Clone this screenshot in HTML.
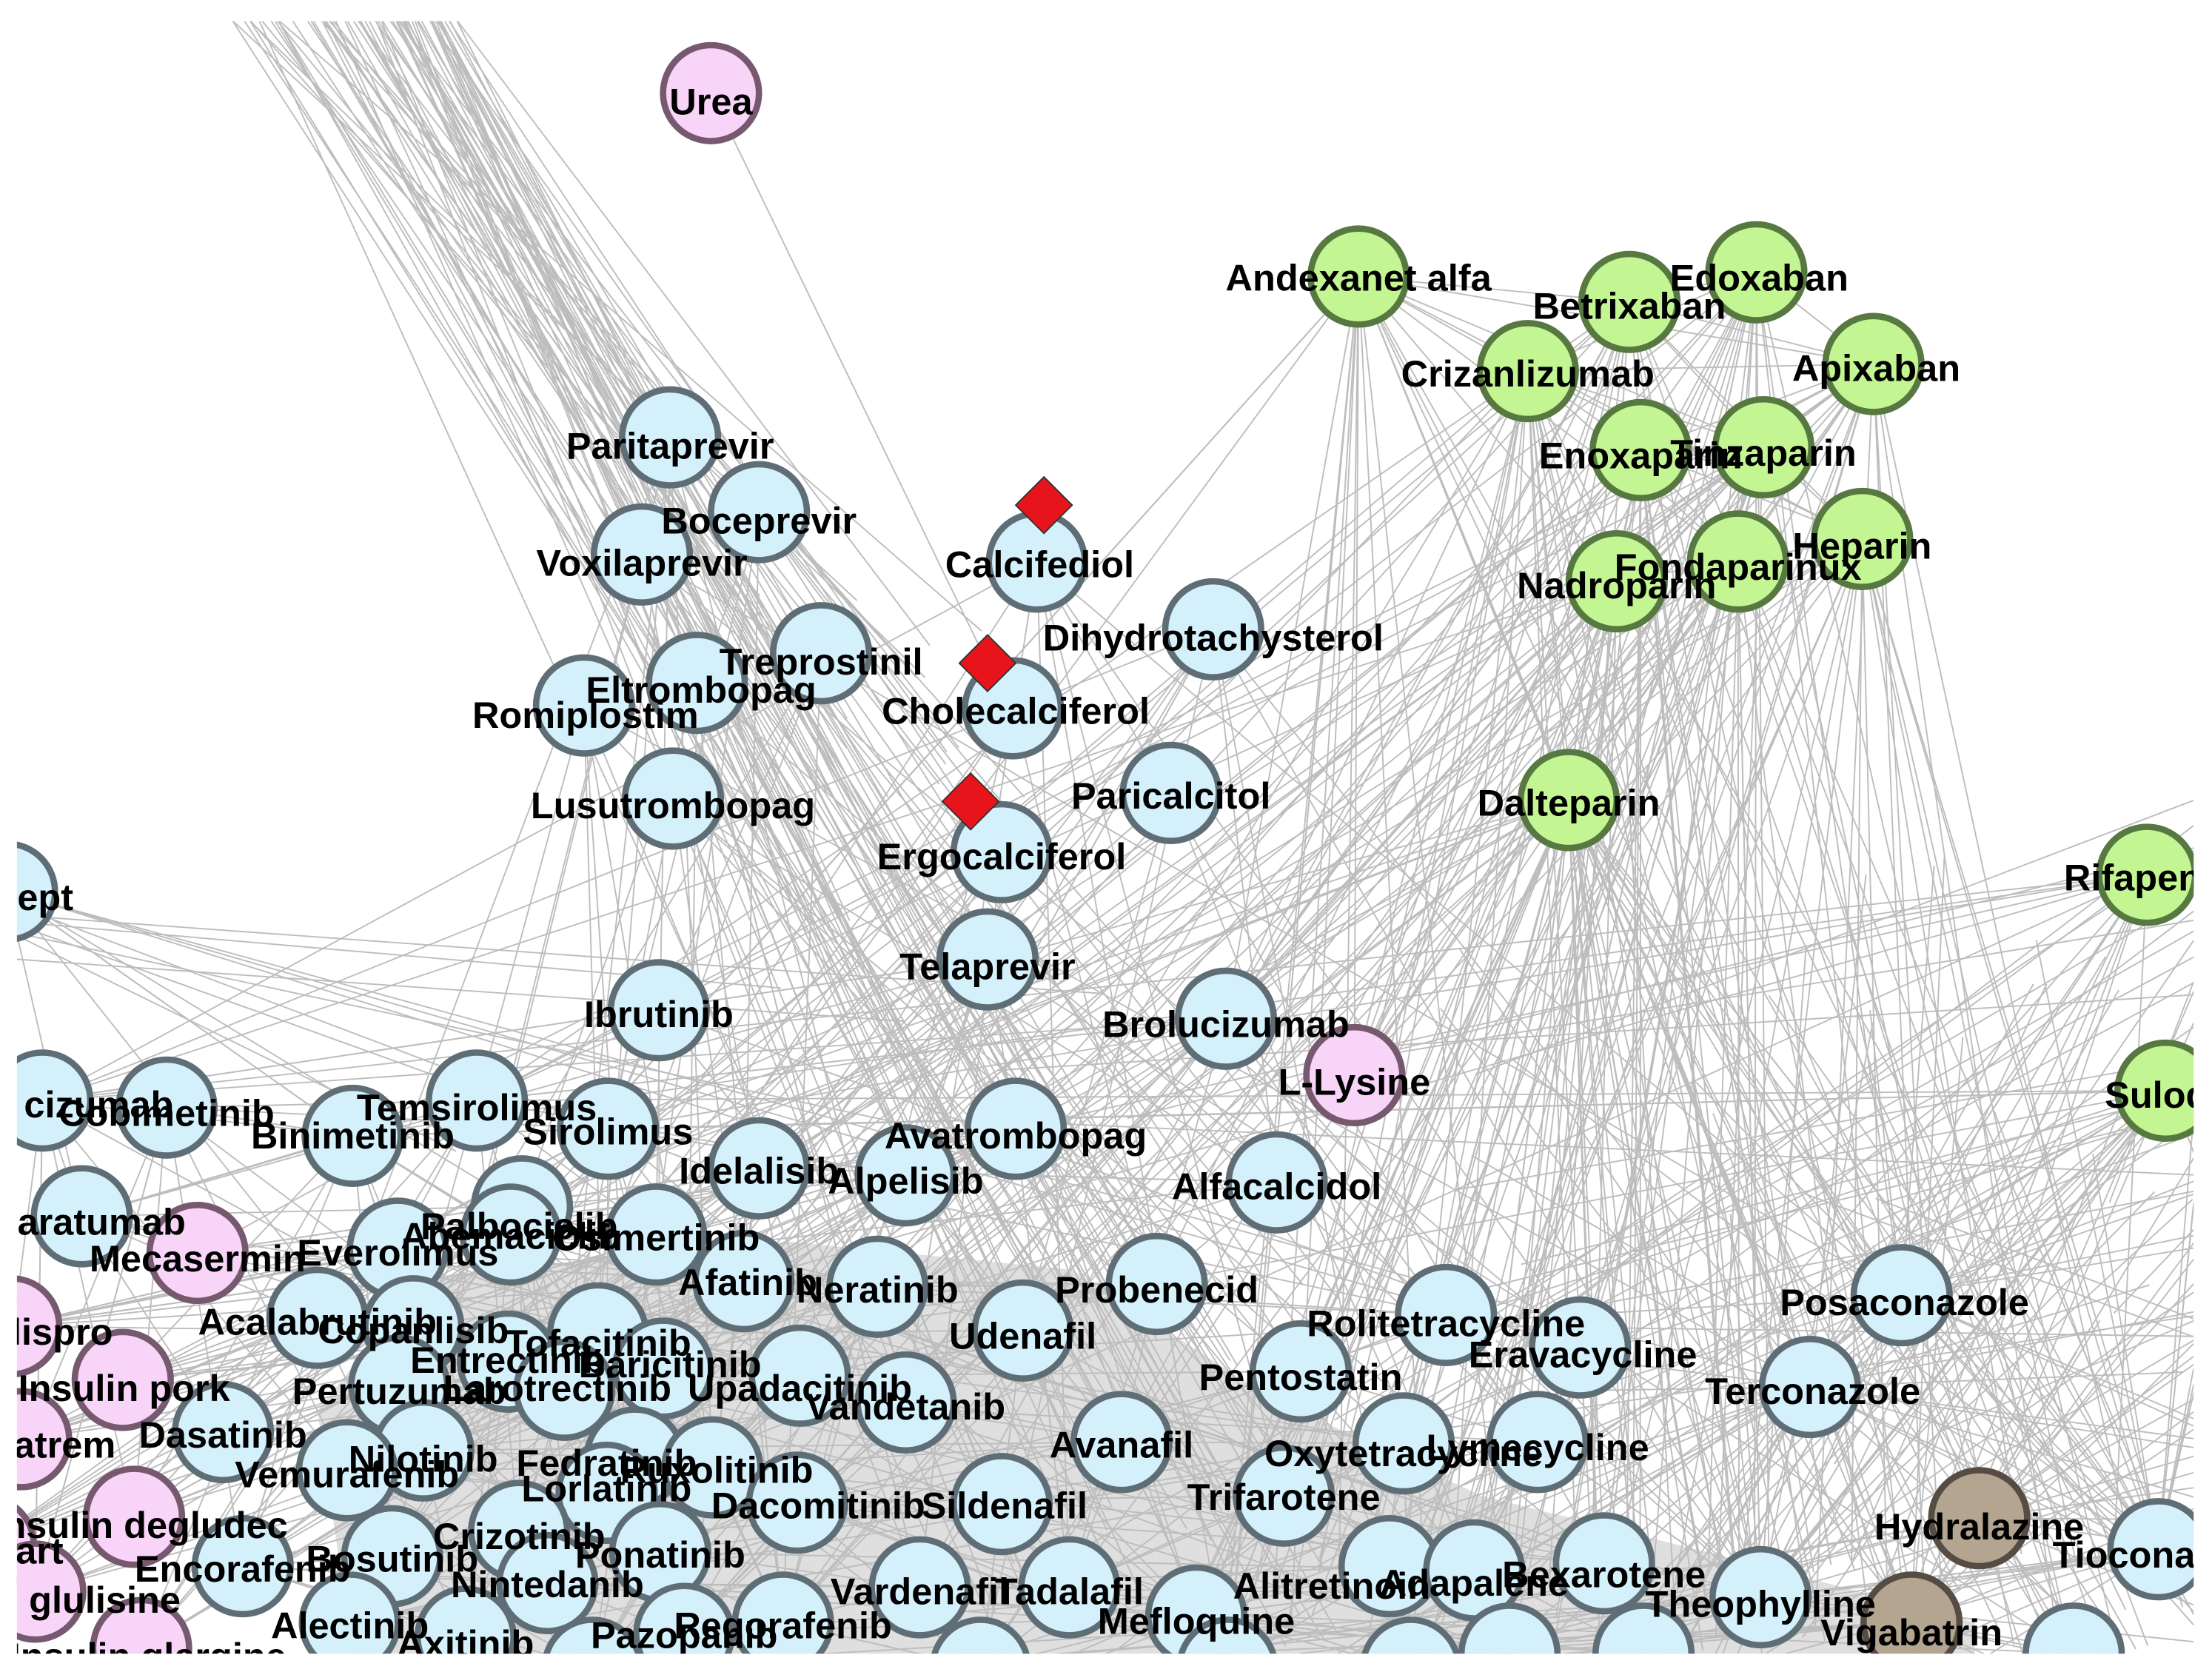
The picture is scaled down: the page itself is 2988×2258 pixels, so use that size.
<!DOCTYPE html>
<html><head><meta charset="utf-8">
<style>
html,body{margin:0;padding:0;background:#fff;}
svg{display:block;}
text{font-family:"Liberation Sans",Arial,sans-serif;font-weight:bold;font-size:26.5px;fill:#000;}
</style></head>
<body>
<svg id="s" width="2988" height="2258" viewBox="0 0 1568 1185" preserveAspectRatio="none" xmlns="http://www.w3.org/2000/svg">
<defs><clipPath id="c"><rect x="12" y="15" width="1543" height="1157"/></clipPath></defs>
<g clip-path="url(#c)">
<polygon points="300,905 560,880 760,900 900,990 1050,1060 1250,1110 1400,1150 1400,1172 250,1172 225,1000" fill="#c4c4c4" opacity="0.55"/>
<g id="edges" stroke="#bdbdbd" stroke-width="1" fill="none"></g>
<g id="nodes" stroke-width="4.5"></g>
<g id="dia" fill="#e8141c" stroke="#333" stroke-width="1">
<polygon points="740,338 760,358 740,378 720,358"/>
<polygon points="700,450 720,470 700,490 680,470"/>
<polygon points="688,548 708,568 688,588 668,568"/>
</g>
<g id="labels"></g>
</g>
</svg>
<script>
var N=[
["Paritaprevir",475,310,475,317,"B"],["Boceprevir",538,363,538,370,"B"],["Voxilaprevir",455,393,455,400,"B"],
["Calcifediol",735,398,737,401,"B"],["Dihydrotachysterol",860,446,860,453,"B"],["Treprostinil",582,463,582,470,"B"],
["Eltrombopag",494,484,497,490,"B"],["Romiplostim",414,500,415,508,"B"],["Cholecalciferol",718,502,720,505,"B"],
["Lusutrombopag",477,566,477,572,"B"],["Paricalcitol",830,562,830,565,"B"],["Ergocalciferol",710,604,710,608,"B"],
["Telaprevir",700,680,700,686,"B"],["Ibrutinib",467,716,467,720,"B"],["Brolucizumab",869,722,869,727,"B"],
["cizumab",30,780,70,784,"B"],["Cobimetinib",118,785,118,790,"B"],["Binimetinib",250,805,250,806,"B"],
["Temsirolimus",338,780,338,786,"B"],["Sirolimus",431,800,431,803,"B"],["Idelalisib",538,828,538,831,"B"],
["Avatrombopag",720,800,720,806,"B"],["Alpelisib",642,833,642,838,"B"],["Alfacalcidol",905,838,905,842,"B"],
["aratumab",58,862,72,867,"B"],["Palbociclib",370,855,368,870,"B"],["Abemaciclib",362,875,362,877,"B"],
["Osimertinib",465,875,465,878,"B"],["Everolimus",282,885,282,889,"B"],["Mecasermin",140,888,140,893,"P"],
["Afatinib",527,908,530,910,"B"],["Neratinib",622,912,622,915,"B"],["Probenecid",820,910,820,915,"B"],
["Acalabrutinib",225,934,225,938,"B"],["Copanlisib",293,940,293,944,"B"],["Tofacitinib",424,945,424,953,"B"],
["Entrectinib",360,965,360,965,"B"],["Baricitinib",470,970,475,968,"B"],["Larotrectinib",400,985,395,985,"B"],
["Pertuzumab",283,982,283,987,"B"],["Udenafil",725,943,725,948,"B"],["Upadacitinib",567,975,567,985,"B"],
["Vandetanib",642,994,642,998,"B"],["Dasatinib",158,1015,158,1018,"B"],["Nilotinib",300,1028,300,1035,"B"],
["Vemurafenib",246,1042,246,1046,"B"],["Fedratinib",450,1033,430,1038,"B"],["Ruxolitinib",505,1040,508,1043,"B"],
["Lorlatinib",430,1058,430,1056,"B"],["Avanafil",795,1022,795,1025,"B"],["Dacomitinib",565,1065,580,1068,"B"],
["Sildenafil",710,1066,712,1068,"B"],["Crizotinib",368,1085,368,1090,"B"],["Ponatinib",468,1100,468,1103,"B"],
["Bosutinib",278,1103,278,1106,"B"],["Encorafenib",172,1110,172,1113,"B"],["Nintedanib",388,1122,388,1124,"B"],
["Vardenafil",652,1125,652,1129,"B"],["Tadalafil",758,1125,758,1129,"B"],["Alectinib",248,1150,248,1153,"B"],
["Axitinib",330,1160,330,1166,"B"],["Pazopanib",485,1158,485,1160,"B"],["Regorafenib",555,1150,555,1153,"B"],
["Mefloquine",848,1145,848,1150,"B"],["Rolitetracycline",1025,932,1025,939,"B"],["Eravacycline",1120,955,1122,961,"B"],
["Pentostatin",922,972,922,977,"B"],["Oxytetracycline",995,1023,995,1031,"B"],["Lymecycline",1090,1022,1090,1027,"B"],
["Trifarotene",910,1060,910,1062,"B"],["Alitretinoin",985,1110,944,1125,"B"],["Adapalene",1045,1113,1045,1123,"B"],
["Bexarotene",1137,1108,1137,1117,"B"],["Theophylline",1248,1132,1248,1138,"B"],["Posaconazole",1348,918,1350,924,"B"],
["Terconazole",1283,983,1285,987,"B"],["Tioconazole",1530,1098,1455,1103,"B","start"],
["",1070,1172,0,0,"B"],["",1165,1172,0,0,"B"],["",1470,1172,0,0,"B"],["",695,1182,0,0,"B"],["",870,1182,0,0,"B"],["",420,1182,0,0,"B"],["",1000,1182,0,0,"B"],
["Etanercept",5,632,52,637,"B","end"],
["Urea",504,66,504,73,"P"],["L-Lysine",960,762,960,768,"P"],["Insulin lispro",8,940,80,945,"P","end"],
["Insulin pork",87,978,88,985,"P"],["Insulin atrem",15,1020,82,1025,"P","end"],["Insulin degludec",95,1075,204,1082,"P","end"],
["Insulin aspart",-10,1095,45,1100,"P","end"],["Insulin glulisine",25,1128,128,1135,"P","end"],["Insulin glargine",100,1168,203,1175,"P","end"],
["Andexanet alfa",963,196,963,198,"G"],["Betrixaban",1155,214,1155,218,"G"],["Edoxaban",1245,193,1247,198,"G"],
["Crizanlizumab",1083,263,1083,266,"G"],["Apixaban",1328,258,1330,262,"G"],["Enoxaparin",1163,319,1163,324,"G"],
["Tinzaparin",1250,317,1250,322,"G"],["Heparin",1320,382,1320,388,"G"],["Fondaparinux",1232,398,1232,403,"G"],
["Nadroparin",1146,412,1146,416,"G"],["Dalteparin",1112,567,1112,570,"G"],["Rifapentine",1522,620,1463,623,"G","start"],
["Sulodexide",1535,773,1492,777,"G","start"],
["Hydralazine",1403,1076,1403,1083,"T"],["Vigabatrin",1355,1150,1355,1158,"T"]
];
var C={B:["#d3f0fb","#5f6e76"],P:["#f8d4f8","#76596f"],G:["#c3f592","#587842"],T:["#b3a590","#564c44"]};
var ns="http://www.w3.org/2000/svg";
function el(t,a,p){var e=document.createElementNS(ns,t);for(var k in a)e.setAttribute(k,a[k]);p.appendChild(e);return e;}
var E=document.getElementById("edges"),ND=document.getElementById("nodes"),L=document.getElementById("labels");
var seed=7;function r(){seed=(seed*16807)%2147483647;return seed/2147483647;}
function line(a,b,c,d){el("line",{x1:a,y1:b,x2:c,y2:d},E);}
var blue=N.filter(function(n){return n[5]=="B"&&n[2]>770;});
var green=N.filter(function(n){return n[5]=="G";});
var greenTop=green.filter(function(n){return n[2]<450;});
// top fan converging near treprostinil then to bottom
for(var i=0;i<80;i++){var sx=165+r()*160;
 if(r()<0.35){line(sx,15,520+r()*220,420+r()*260);}else line(sx,15,700+r()*250,900+r()*270);}
line(504,66,700,470);
// green cluster
for(var i=0;i<greenTop.length;i++)for(var j=i+1;j<greenTop.length;j++)if(r()<0.7)line(greenTop[i][1],greenTop[i][2],greenTop[j][1],greenTop[j][2]);
green.forEach(function(g){var k=g[0]=="Dalteparin"?45:16;for(var i=0;i<k;i++){var t;
 if(r()<0.6){t=[0,850+r()*700,1100+r()*72];}else t=blue[Math.floor(r()*blue.length)];line(g[1],g[2],t[1],t[2]);}});
greenTop.forEach(function(g){line(g[1],g[2],1112,567);line(g[1],g[2],869,722);line(g[1],g[2],960,762);});
// dense blue
for(var i=0;i<700;i++){var a=blue[Math.floor(r()*blue.length)],b=blue[Math.floor(r()*blue.length)];
 if(Math.abs(a[1]-b[1])+Math.abs(a[2]-b[2])<(r()<0.85?380:1200))line(a[1],a[2],b[1],b[2]);}
var up=N.filter(function(n){return n[5]=="B"&&n[2]>300&&n[2]<=770;});
for(var i=0;i<110;i++){var a=up[Math.floor(r()*up.length)],b=blue[Math.floor(r()*blue.length)];line(a[1],a[2],b[1],b[2]);}
// right side
[[1403,1076],[1355,1150],[1248,1132],[1530,1098],[1348,918],[1283,983]].forEach(function(p){
 for(var i=0;i<25;i++){var t=r()<0.5?[1555,700+r()*470]:[700+r()*800,1172];if(r()<0.3)t=[1000+r()*555,600+r()*400];line(p[0],p[1],t[0],t[1]);}});
for(var i=0;i<30;i++){line(1555,560+r()*400,700+r()*850,750+r()*420);}
// left pink
N.filter(function(n){return n[5]=="P"&&n[1]<200;}).forEach(function(p){for(var i=0;i<12;i++){var t=blue[Math.floor(r()*Math.min(20,blue.length))];line(p[1],p[2],t[1],t[2]);}});
for(var i=0;i<8;i++)line(12,620+r()*60,300+r()*500,700+r()*150);
N.forEach(function(n){var c=C[n[5]];el("circle",{cx:n[1],cy:n[2],r:34,fill:c[0],stroke:c[1]},ND);});
N.forEach(function(n){if(!n[0])return;var t=el("text",{x:n[3],y:n[4]+8,"text-anchor":n[6]||"middle"},L);t.textContent=n[0];});
</script>
</body></html>
